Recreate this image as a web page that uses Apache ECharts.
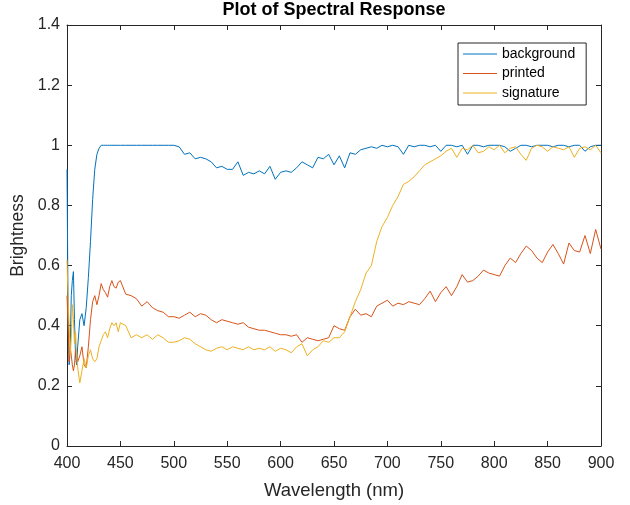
<!DOCTYPE html>
<html lang="en">
<head>
    <meta charset="UTF-8">
    <script src="https://cdn.jsdelivr.net/npm/echarts@6/dist/echarts.min.js"></script>
    <style>
        body { margin: 0; background: #fff; }
    </style>
</head>
<body>
<div id="chart" style="width: 630px;height: 505px"></div>

<script>
    // wavelengths (nm), denser at the noisy start
    var wavelength = [400, 401, 402, 403, 404, 405, 406, 407, 408, 409, 410,
        412, 414, 416, 418, 420, 422, 424, 426, 428, 430, 432, 434, 436, 438, 440, 442, 444, 446, 448, 450,
        455, 460, 465, 470, 475, 480, 485, 490, 495, 500, 505, 510, 515, 520, 525, 530, 535, 540, 545, 550,
        555, 560, 565, 570, 575, 580, 585, 590, 595, 600, 605, 610, 615, 620, 625, 630, 635, 640, 645, 650,
        655, 660, 665, 670, 675, 680, 685, 690, 695, 700, 705, 710, 715, 720, 725, 730, 735, 740, 745, 750,
        755, 760, 765, 770, 775, 780, 785, 790, 795, 800, 805, 810, 815, 820, 825, 830, 835, 840, 845, 850,
        855, 860, 865, 870, 875, 880, 885, 890, 895, 900];

    var background = [0.92, 0.45, 0.27, 0.32, 0.50, 0.55, 0.58, 0.42, 0.30, 0.27, 0.33,
        0.42, 0.44, 0.40, 0.46, 0.56, 0.68, 0.82, 0.92, 0.97, 0.99, 1.0, 1.0, 1.0, 1.0, 1.0, 1.0, 1.0, 1.0, 1.0, 1.0,
        1.0, 1.0, 1.0, 1.0, 1.0, 1.0, 1.0, 1.0, 1.0, 1.0, 0.995, 0.97, 0.975, 0.955, 0.96, 0.955, 0.945, 0.925, 0.93, 0.92,
        0.92, 0.945, 0.90, 0.91, 0.905, 0.915, 0.905, 0.93, 0.887, 0.91, 0.915, 0.91, 0.925, 0.945, 0.935, 0.925, 0.96, 0.955, 0.97, 0.935,
        0.965, 0.925, 0.975, 0.97, 0.985, 0.99, 0.995, 0.99, 1.0, 0.995, 1.0, 0.995, 0.97, 1.0, 0.995, 1.0, 1.0, 0.995, 1.0, 0.98,
        1.0, 1.0, 0.995, 1.0, 0.97, 1.0, 1.0, 0.995, 1.0, 1.0, 1.0, 0.995, 0.98, 0.99, 1.0, 1.0, 0.995, 1.0, 1.0, 1.0,
        0.995, 1.0, 1.0, 0.995, 1.0, 1.0, 0.98, 0.995, 1.0, 1.0];

    var printed = [0.50, 0.40, 0.28, 0.33, 0.30, 0.27, 0.25, 0.27, 0.32, 0.30, 0.28,
        0.30, 0.33, 0.27, 0.26, 0.33, 0.42, 0.48, 0.50, 0.47, 0.50, 0.54, 0.52, 0.51, 0.495, 0.53, 0.55, 0.53, 0.525, 0.545, 0.55,
        0.505, 0.50, 0.49, 0.465, 0.48, 0.46, 0.45, 0.445, 0.43, 0.43, 0.425, 0.435, 0.445, 0.43, 0.44, 0.435, 0.42, 0.41, 0.42, 0.415,
        0.41, 0.405, 0.41, 0.395, 0.39, 0.385, 0.385, 0.38, 0.375, 0.37, 0.37, 0.365, 0.37, 0.345, 0.36, 0.355, 0.35, 0.355, 0.36, 0.40,
        0.39, 0.385, 0.43, 0.455, 0.435, 0.44, 0.43, 0.465, 0.475, 0.485, 0.465, 0.475, 0.47, 0.48, 0.475, 0.47, 0.49, 0.515, 0.48, 0.51,
        0.53, 0.50, 0.53, 0.57, 0.545, 0.55, 0.565, 0.585, 0.575, 0.57, 0.565, 0.60, 0.625, 0.61, 0.64, 0.665, 0.65, 0.625, 0.61, 0.645,
        0.67, 0.64, 0.605, 0.675, 0.65, 0.645, 0.70, 0.64, 0.72, 0.655];

    var signature = [0.62, 0.49, 0.40, 0.30, 0.36, 0.47, 0.42, 0.34, 0.38, 0.30, 0.26,
        0.21, 0.25, 0.29, 0.26, 0.30, 0.32, 0.29, 0.28, 0.29, 0.33, 0.35, 0.37, 0.38, 0.36, 0.39, 0.41, 0.40, 0.41, 0.38, 0.41,
        0.40, 0.36, 0.37, 0.36, 0.37, 0.355, 0.37, 0.36, 0.345, 0.345, 0.35, 0.36, 0.355, 0.34, 0.33, 0.32, 0.315, 0.325, 0.33, 0.32,
        0.33, 0.325, 0.32, 0.33, 0.32, 0.325, 0.32, 0.33, 0.315, 0.325, 0.32, 0.31, 0.33, 0.34, 0.30, 0.32, 0.33, 0.35, 0.345, 0.36,
        0.36, 0.38, 0.43, 0.48, 0.52, 0.575, 0.60, 0.68, 0.73, 0.76, 0.80, 0.83, 0.87, 0.88, 0.895, 0.915, 0.935, 0.945, 0.955, 0.965,
        0.98, 0.99, 0.96, 0.99, 0.985, 1.0, 0.975, 0.98, 0.995, 0.985, 1.0, 0.975, 0.99, 0.995, 0.97, 0.95, 0.99, 1.0, 0.995, 0.98,
        0.995, 0.99, 0.985, 0.995, 0.96, 0.99, 0.995, 0.985, 1.0, 0.975];

    var seriesNames = ['background', 'printed', 'signature'];
    var seriesColors = ['#0072BD', '#D95319', '#EDB120'];
    var seriesValues = [background, printed, signature];

    var axisColor = '#262626';
    var textFont = 'Liberation Sans, Arial, sans-serif';

    function pairs(values) {
        var out = [];
        for (var i = 0; i < wavelength.length; i++) {
            out.push([wavelength[i], values[i]]);
        }
        return out;
    }

    var chart = echarts.init(document.getElementById('chart'));

    // box axes like matlab: ticks inside on all four sides
    var boxX = {
        type: 'value', min: 400, max: 900, interval: 50,
        axisLine: {onZero: false, lineStyle: {color: axisColor, width: 1}},
        axisTick: {inside: true, length: 5, lineStyle: {color: axisColor}},
        splitLine: {show: false}
    };
    var boxY = {
        type: 'value', min: 0, max: 1.4, interval: 0.2,
        axisLine: {onZero: false, show: true, lineStyle: {color: axisColor, width: 1}},
        axisTick: {show: true, inside: true, length: 5, lineStyle: {color: axisColor}},
        splitLine: {show: false}
    };

    var option = {
        animation: false,
        backgroundColor: '#fff',
        title: {
            text: 'Plot of Spectral Response',
            left: 334, top: 1, padding: 0, textAlign: 'center',
            textStyle: {fontFamily: textFont, fontSize: 18, fontWeight: 'bold', color: '#000'}
        },
        grid: {left: 67, right: 29, top: 25, bottom: 58},
        legend: {
            data: seriesNames.map(function (n) { return {name: n, icon: 'rect'}; }),
            orient: 'vertical',
            left: 458, top: 43,
            padding: [4, 11, 5, 5],
            itemWidth: 34, itemHeight: 1.2, itemGap: 5.5,
            borderColor: axisColor, borderWidth: 1,
            backgroundColor: '#fff',
            textStyle: {fontFamily: textFont, fontSize: 14, lineHeight: 14, color: '#000'}
        },
        xAxis: [
            Object.assign({}, boxX, {
                position: 'bottom',
                name: 'Wavelength (nm)', nameLocation: 'middle', nameGap: 35,
                nameTextStyle: {fontFamily: textFont, fontSize: 18.5, color: axisColor},
                axisLabel: {fontFamily: textFont, fontSize: 16, color: axisColor, margin: 10}
            }),
            Object.assign({}, boxX, {position: 'top', axisLabel: {show: false}})
        ],
        yAxis: [
            Object.assign({}, boxY, {
                position: 'left',
                name: 'Brightness', nameLocation: 'middle', nameGap: 34,
                nameTextStyle: {fontFamily: textFont, fontSize: 17.5, color: axisColor},
                axisLabel: {
                    fontFamily: textFont, fontSize: 16, color: axisColor, margin: 7,
                    formatter: function (v) { return String(parseFloat(v.toFixed(1))); }
                }
            }),
            Object.assign({}, boxY, {position: 'right', axisLabel: {show: false}})
        ],
        series: []
    };

    for (var s = 0; s < seriesNames.length; s++) {
        option.series.push({
            name: seriesNames[s],
            type: 'line',
            data: pairs(seriesValues[s]),
            symbol: 'none',
            lineStyle: {color: seriesColors[s], width: 1},
            itemStyle: {color: seriesColors[s]},
            z: 3
        });
    }

    chart.setOption(option);
</script>
</body>
</html>
